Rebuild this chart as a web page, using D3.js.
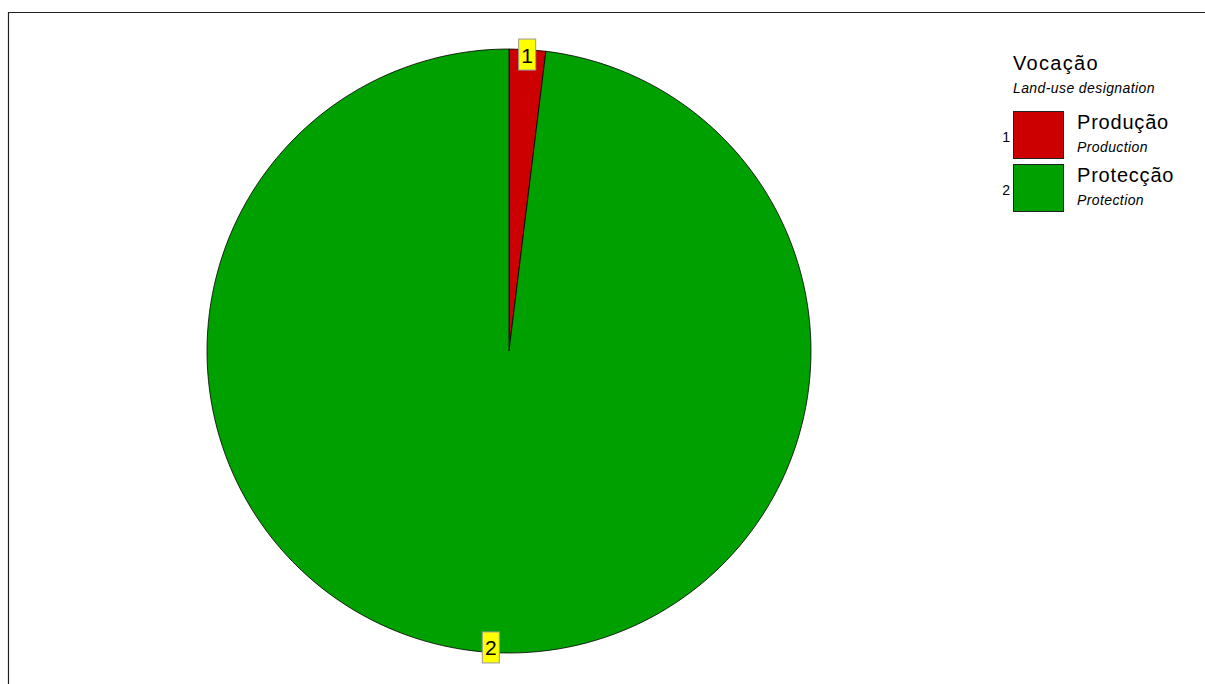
<!DOCTYPE html>
<html>
<head>
<meta charset="utf-8">
<script src="https://cdn.jsdelivr.net/npm/d3@7"></script>
<style>
  body { margin: 0; background: #fff; }
  text { font-family: "Liberation Sans", Arial, sans-serif; }
</style>
</head>
<body>
<div id="chart"></div>
<script>
// land-use designation shares
const ids = [1, 2];
const namesPt = ['Produção', 'Protecção'];
const namesEn = ['Production', 'Protection'];
const values = [1.95, 98.05];
const colors = ['#cc0000', '#00a000'];

const width = 1205;
const height = 684;
const cx = 509, cy = 351, radius = 302;

const svg = d3.select('#chart')
  .append('svg')
  .attr('width', width)
  .attr('height', height);

// frame running off the page
svg.append('path')
  .attr('d', `M8.5,${height} V12.5 H${width}`)
  .attr('fill', 'none')
  .attr('stroke', '#222')
  .attr('stroke-width', 1.2);

const pie = d3.pie().sort(null).value(d => d)(values);
const arc = d3.arc().innerRadius(0).outerRadius(radius);
const labelArc = d3.arc().innerRadius(radius - 5).outerRadius(radius - 5);

const g = svg.append('g').attr('transform', `translate(${cx},${cy})`);

g.selectAll('path')
  .data(pie)
  .join('path')
    .attr('d', arc)
    .attr('fill', (d, i) => colors[i])
    .attr('stroke', '#000')
    .attr('stroke-width', 0.8);

// yellow tag labels
const tags = g.selectAll('g.tag')
  .data(pie)
  .join('g')
    .attr('class', 'tag')
    .attr('transform', d => `translate(${labelArc.centroid(d)})`);

tags.append('rect')
  .attr('x', -8.5)
  .attr('y', -15.5)
  .attr('width', 17)
  .attr('height', 31)
  .attr('fill', '#ffff00')
  .attr('stroke', '#999')
  .attr('stroke-width', 1);

tags.append('text')
  .attr('text-anchor', 'middle')
  .attr('y', 8)
  .attr('font-size', '21px')
  .attr('fill', '#000')
  .text((d, i) => ids[i]);

// legend
const lg = svg.append('g').attr('transform', 'translate(1013,0)');

lg.append('text')
  .attr('x', 0).attr('y', 70)
  .attr('font-size', '20px')
  .attr('letter-spacing', '1.3px')
  .text('Vocação');

lg.append('text')
  .attr('x', 0).attr('y', 93)
  .attr('font-size', '14px')
  .attr('font-style', 'italic')
  .attr('letter-spacing', '0.4px')
  .text('Land-use designation');

const rows = lg.selectAll('g.row')
  .data(ids)
  .join('g')
    .attr('class', 'row')
    .attr('transform', (d, i) => `translate(0,${111 + i * 53})`);

rows.append('rect')
  .attr('x', 0.5).attr('y', 0.5)
  .attr('width', 50).attr('height', 47)
  .attr('fill', (d, i) => colors[i])
  .attr('stroke', '#222')
  .attr('stroke-width', 1);

rows.append('text')
  .attr('x', -3).attr('y', 31)
  .attr('text-anchor', 'end')
  .attr('font-size', '14px')
  .text(d => d);

rows.append('text')
  .attr('x', 64).attr('y', 18)
  .attr('font-size', '20px')
  .attr('letter-spacing', '0.8px')
  .text((d, i) => namesPt[i]);

rows.append('text')
  .attr('x', 64).attr('y', 41)
  .attr('font-size', '14px')
  .attr('font-style', 'italic')
  .attr('letter-spacing', '0.4px')
  .text((d, i) => namesEn[i]);
</script>
</body>
</html>
